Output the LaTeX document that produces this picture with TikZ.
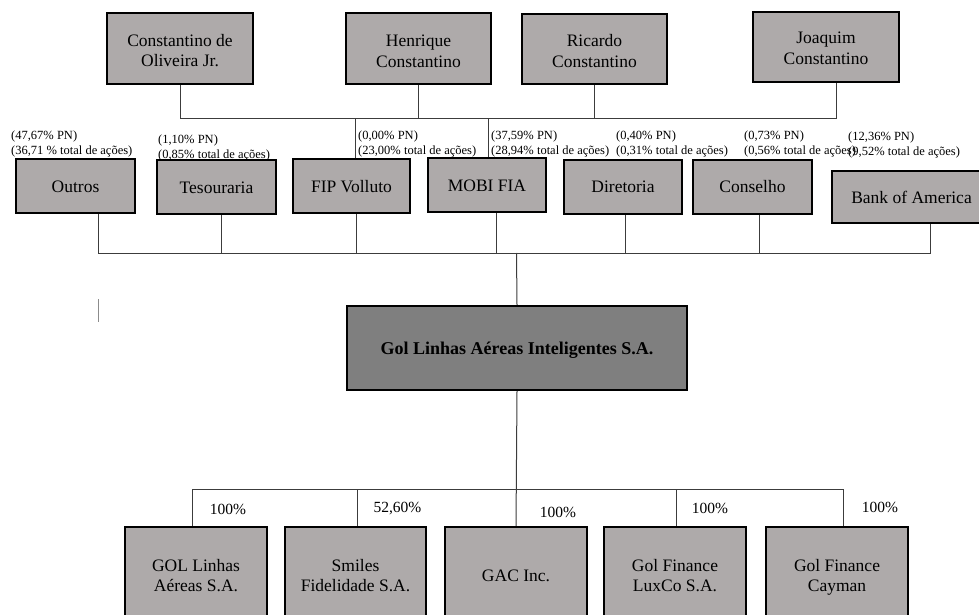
\documentclass[tikz,border=0pt]{standalone}
\usepackage{fontspec}
\setmainfont{Liberation Serif}
\definecolor{boxgray}{RGB}{174,170,170}
\definecolor{golgray}{RGB}{127,127,127}
\definecolor{linegray}{RGB}{60,60,60}
\newcommand{\boxtxt}[2]{\raisebox{-#1}[\height][\depth]{\begin{tabular}{@{}c@{}}#2\end{tabular}}}
\tikzset{
  box/.style={draw=black, line width=2.2pt, fill=boxgray, inner sep=0pt, align=center,
    font=\fontsize{17.5}{20.5}\selectfont},
  conn/.style={draw=linegray, line width=1pt},
  share/.style={anchor=west, inner sep=0pt, align=left, font=\fontsize{12.5}{15}\selectfont},
  pct/.style={inner sep=0pt, font=\fontsize{15.5}{18}\selectfont},
}
\begin{document}
\begin{tikzpicture}[x=1pt,y=-1pt]
\clip (0,0) rectangle (979,615);
\fill[white] (0,0) rectangle (979,615);

% founders
\node[box, minimum width=146pt, minimum height=71pt] (cdo) at (180,48.5) {\boxtxt{4pt}{Constantino de\\Oliveira Jr.}};
\node[box, minimum width=145pt, minimum height=71pt] (hc) at (418.5,48.5) {\boxtxt{4.5pt}{Henrique\\Constantino}};
\node[box, minimum width=145pt, minimum height=70pt] (rc) at (594.5,49) {\boxtxt{4pt}{Ricardo\\Constantino}};
\node[box, minimum width=146pt, minimum height=70pt] (jc) at (826,47) {\boxtxt{3pt}{Joaquim\\Constantino}};

% shareholders
\node[box, minimum width=119pt, minimum height=54pt] (outros) at (75.5,186) {\boxtxt{2pt}{Outros}};
\node[box, minimum width=119pt, minimum height=54pt] (tes) at (216.5,187) {\boxtxt{2pt}{Tesouraria}};
\node[box, minimum width=117pt, minimum height=54pt] (fip) at (351.5,186) {\boxtxt{2pt}{FIP Volluto}};
\node[box, minimum width=118pt, minimum height=54pt] (mobi) at (487,185) {\boxtxt{2pt}{MOBI FIA}};
\node[box, minimum width=118pt, minimum height=54pt] (dir) at (623,187) {\boxtxt{1pt}{Diretoria}};
\node[box, minimum width=119pt, minimum height=54pt] (cons) at (752.5,187) {\boxtxt{1pt}{Conselho}};
\node[box, minimum width=159pt, minimum height=52pt] (boa) at (911.5,197) {Bank of America};

% share labels
\node[share] (l1) at (11,144) {(47,67\% PN)\\(36,71 \% total de ações)};
\node[share] (l2) at (158,147.5) {(1,10\% PN)\\(0,85\% total de ações)};
\node[share] (l3) at (358,144) {(0,00\% PN)\\(23,00\% total de ações)};
\node[share] (l4) at (491,144) {(37,59\% PN)\\(28,94\% total de ações)};
\node[share] (l5) at (616,144) {(0,40\% PN)\\(0,31\% total de ações)};
\node[share] (l6) at (744,144) {(0,73\% PN)\\(0,56\% total de ações)};
\node[share] (l7) at (848,145) {(12,36\% PN)\\(9,52\% total de ações)};

% main company
\node[box, fill=golgray, minimum width=340pt, minimum height=84pt,
  font=\bfseries\fontsize{18}{21}\selectfont] (gol) at (517,348) {\boxtxt{2.5pt}{Gol Linhas Aéreas Inteligentes S.A.}};

% subsidiaries
\node[box, minimum width=142pt, minimum height=97pt] (s1) at (196,575.5) {GOL Linhas\\Aéreas S.A.};
\node[box, minimum width=141pt, minimum height=97pt] (s2) at (355.5,575.5) {Smiles\\Fidelidade S.A.};
\node[box, minimum width=142pt, minimum height=97pt] (s3) at (516,575.5) {GAC Inc.};
\node[box, minimum width=142pt, minimum height=97pt] (s4) at (675,575.5) {Gol Finance\\LuxCo S.A.};
\node[box, minimum width=142pt, minimum height=97pt] (s5) at (837,575.5) {\boxtxt{2pt}{Gol Finance\\Cayman}};

% percentages
\node[pct] (p1) at (228,509) {100\%};
\node[pct] (p2) at (397.5,509) {52,60\%};
\node[pct] (p3) at (558,512) {100\%};
\node[pct] (p4) at (710,508) {100\%};
\node[pct] (p5) at (880,507) {100\%};

% top bus
\coordinate (ta) at (180,119);
\coordinate (tj) at (836,119);
\coordinate (tf) at (355,119);
\coordinate (tm) at (488,119);
\draw[conn] (cdo.south) -- (ta) -- (tj) -- (tj |- jc.south);
\draw[conn] (hc.south) -- (hc.south |- ta);
\draw[conn] (rc.south) -- (rc.south |- ta);
\draw[conn] (tf) -- (tf |- fip.north);
\draw[conn] (tm) -- (tm |- mobi.north);

% middle bus
\coordinate (b1) at (98,253);
\coordinate (b2) at (221,253);
\coordinate (b3) at (356,253);
\coordinate (b4) at (496,253);
\coordinate (b5) at (625,253);
\coordinate (b6) at (759,253);
\coordinate (b7) at (930,253);
\coordinate (bm) at (516.5,253);
\draw[conn] (b1 |- outros.south) -- (b1) -- (b7) -- (b7 |- boa.south);
\draw[conn] (b2 |- tes.south) -- (b2);
\draw[conn] (b3 |- fip.south) -- (b3);
\draw[conn] (b4 |- mobi.south) -- (b4);
\draw[conn] (b5 |- dir.south) -- (b5);
\draw[conn] (b6 |- cons.south) -- (b6);
\draw[conn] (bm) -- (gol.north);

% stray mark
\coordinate (m1) at (98,299);
\coordinate (m2) at (98,322);
\draw[draw=black!45, line width=0.8pt] (m1) -- (m2);

% bottom bus
\coordinate (c1) at (192,489);
\coordinate (c2) at (357,489);
\coordinate (c4) at (676,489);
\coordinate (c5) at (843,489);
\draw[conn] (gol.south) -- (s3.north);
\draw[conn] (c1 |- s1.north) -- (c1) -- (c5) -- (c5 |- s5.north);
\draw[conn] (c2) -- (c2 |- s2.north);
\draw[conn] (c4) -- (c4 |- s4.north);
\end{tikzpicture}
\end{document}
